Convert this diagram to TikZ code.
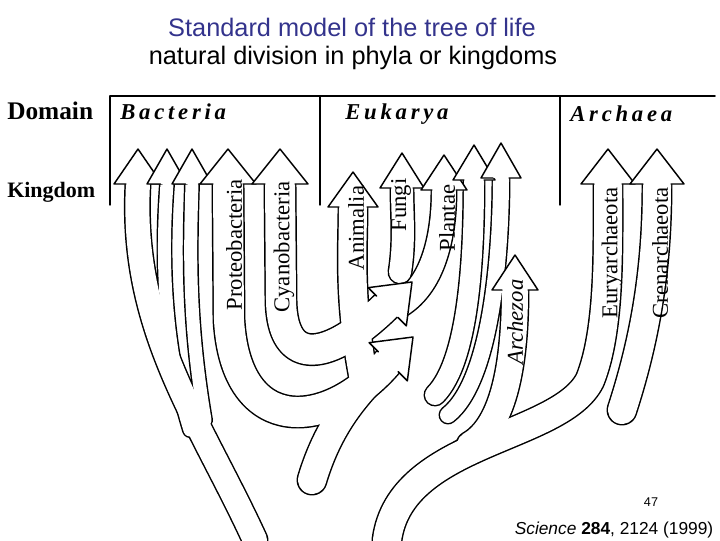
\documentclass[tikz,border=0pt]{standalone}
\usepackage{fontspec}
\setmainfont{Liberation Serif}
\newfontfamily\sans{Liberation Sans}
\begin{document}
\begin{tikzpicture}[x=0.75pt,y=-0.75pt,line cap=round,line join=round]
\useasboundingbox (0,0) rectangle (720,540);
\definecolor{titleblue}{RGB}{51,51,140}
\tikzset{
 lbl/.style={rotate=90,font=\fontsize{17}{17}\selectfont,inner sep=0pt},
 hd/.style={font=\bfseries\fontsize{19}{19}\selectfont,anchor=west,inner sep=0pt},
 dom/.style={font=\bfseries\itshape\fontsize{17}{17}\selectfont,anchor=west,inner sep=0pt},
 headfill/.style={draw=black,fill=white,line width=1.1pt}
}
\newcommand\mybranches{%
 \path[bw=24] (255,540) .. controls (200,420) and (130,330) .. (138,184);
 \path[bw=13] (190,430) .. controls (162,340) and (162,250) .. (167,184);
 \path[bw=13] (205,420) .. controls (188,320) and (190,250) .. (192,184);
 \path[bw=30] (228,184) -- (229,320) .. controls (236,440) and (330,430) .. (388,362);
 \path[bw=30] (280,184) -- (281,300) .. controls (282,370) and (330,360) .. (385,307);
 \path[bw=28] (312,480) .. controls (330,420) and (360,390) .. (388,362);
 \path[bw=28] (365,385) .. controls (348,300) and (353,250) .. (353,207);
 \path[bw=22] (400,272) .. controls (405,240) and (402,215) .. (402,188);
 \path[bw=24] (400,305) .. controls (432,285) and (444,240) .. (444,190);
 \path[bw=20] (435,395) .. controls (470,360) and (474,250) .. (474,180);
 \path[bw=16] (448,415) .. controls (492,380) and (501,250) .. (501,178);
 \path[bw=26] (470,445) .. controls (505,425) and (515,360) .. (515,290);
 \path[bw=28] (387,540) .. controls (400,440) and (560,440) .. (590,380) .. controls (610,330) and (608,250) .. (608,184);
 \path[bw=28] (622,410) .. controls (648,330) and (657,260) .. (657,184);
}
\newcommand\myhead[5]{%
 \begin{scope}[shift={(#1,#2)},rotate=#3]
 \filldraw[headfill] (-#4,35) -- (-#5,35) -- (0,0) -- (#5,35) -- (#4,35);
 \end{scope}}
% titles
\node[font=\sans\fontsize{19}{19}\selectfont,text=titleblue] (t1) at (352,27) {Standard model of the tree of life};
\node[font=\sans\fontsize{19}{19}\selectfont] (t2) at (353,58) {natural division in phyla or kingdoms};
% header
\draw[line width=1.3pt] (110,96) -- (715,96);
\draw[line width=1pt] (110,96) -- (110,205) (320,96) -- (320,205) (560,96) -- (560,205);
\node[hd] (dm) at (7,111) {Domain};
\node[hd,font=\bfseries\fontsize{16.5}{16.5}\selectfont] (kg) at (7,192) {Kingdom};
\node[dom] (bac) at (120,112) {B\,a\,c\,t\,e\,r\,i\,a};
\node[dom] (euk) at (345,114) {E\,u\,k\,a\,r\,y\,a};
\node[dom] (arc) at (570,114) {A\,r\,c\,h\,a\,e\,a};
% branches: outline pass then fill pass
\begin{scope}[bw/.style={draw=black,line width=#1*0.75pt+2.2pt}]
\mybranches
\end{scope}
\begin{scope}[bw/.style={draw=white,line width=#1*0.75pt}]
\mybranches
\end{scope}
% heads
\myhead{138}{149}{0}{12}{24}
\myhead{167}{149}{0}{6.5}{20}
\myhead{192}{149}{0}{6.5}{20}
\myhead{228}{149}{0}{15}{28}
\myhead{280}{149}{0}{15}{28}
\myhead{412}{282}{-45}{15}{27}
\myhead{413}{337}{-45}{14}{27}
\myhead{353}{172}{0}{14}{25}
\myhead{402}{153}{0}{11}{22}
\myhead{444}{155}{0}{12}{23}
\myhead{474}{145}{0}{10}{21}
\myhead{501}{143}{0}{8}{20}
\myhead{515}{255}{0}{13}{23}
\myhead{608}{149}{0}{14}{27}
\myhead{657}{149}{0}{14}{27}
% labels
\node[lbl] (pro) at (234,245) {Proteobacteria};
\node[lbl] (cya) at (284,247) {Cyanobacteria};
\node[lbl] (ani) at (356,228) {Animalia};
\node[lbl] (fun) at (401,205) {Fungi};
\node[lbl] (pla) at (447,218) {Plantae};
\node[lbl,font=\itshape\fontsize{17}{17}\selectfont] (arz) at (515,322) {Archezoa};
\node[lbl] (eur) at (612,253) {Euryarchaeota};
\node[lbl] (cre) at (660,253) {Crenarchaeota};
% footer
\node[font=\sans\fontsize{9.5}{9.5}\selectfont] (pg) at (651,502) {47};
\node[font=\sans\fontsize{13}{13}\selectfont,anchor=east] (sci) at (718,530) {\textit{Science} \textbf{284}, 2124 (1999)};
\end{tikzpicture}
\end{document}
